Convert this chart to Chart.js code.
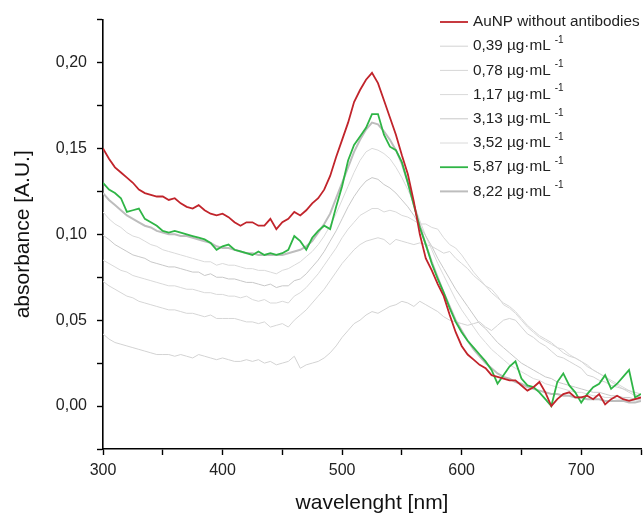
<!DOCTYPE html>
<html>
<head>
<meta charset="utf-8">
<script src="https://cdn.jsdelivr.net/npm/chart.js@4"></script>
<style>
  html, body { margin: 0; padding: 0; background: #fff; }
  #wrap { width: 643px; height: 515px; }
</style>
</head>
<body>
<div id="wrap"><canvas id="spectra" width="643" height="515"></canvas></div>
<script>
// Wavelength grid (nm)
const wavelength = [300,305,310,315,320,325,330,335,340,345,350,355,360,365,370,375,380,385,390,395,
  400,405,410,415,420,425,430,435,440,445,450,455,460,465,470,475,480,485,490,495,
  500,505,510,515,520,525,530,535,540,545,550,555,560,565,570,575,580,585,590,595,
  600,605,610,615,620,625,630,635,640,645,650,655,660,665,670,675,680,685,690,695,
  700,705,710,715,720,725,730,735,740,745,750];

// Absorbance readings
const auNP = [.150,.144,.139,.136,.133,.130,.126,.124,.123,.122,.122,.120,.121,.118,.116,.115,.117,.114,.112,.111,
  .112,.110,.107,.105,.107,.107,.105,.105,.109,.103,.107,.109,.113,.111,.114,.118,.121,.126,.134,.145,
  .155,.165,.177,.184,.190,.194,.188,.178,.168,.158,.146,.135,.119,.100,.086,.079,.071,.064,.053,.043,
  .035,.030,.027,.024,.022,.018,.017,.016,.015,.015,.012,.009,.011,.014,.008,.000,.004,.007,.008,.005,
  .005,.006,.004,.007,.001,.004,.006,.004,.003,.004,.005];

const c587 = [.130,.126,.124,.121,.113,.114,.115,.109,.107,.105,.102,.101,.102,.101,.100,.099,.098,.097,.095,.091,
  .093,.094,.091,.090,.089,.088,.090,.088,.089,.088,.089,.091,.099,.096,.091,.098,.102,.105,.103,.116,
  .128,.143,.152,.157,.162,.170,.170,.158,.151,.149,.142,.130,.117,.104,.094,.083,.074,.066,.057,.049,
  .043,.038,.034,.030,.026,.021,.013,.018,.023,.026,.016,.012,.011,.008,.004,.000,.014,.019,.012,.008,
  .002,.007,.011,.013,.018,.010,.013,.017,.021,.005,.007];

const c822 = [.124,.120,.117,.114,.111,.109,.107,.105,.104,.102,.101,.100,.100,.099,.099,.098,.097,.096,.095,.093,
  .092,.092,.091,.090,.089,.089,.088,.088,.088,.088,.088,.089,.090,.091,.093,.096,.101,.106,.112,.121,
  .130,.139,.148,.155,.161,.165,.164,.160,.155,.149,.141,.130,.117,.105,.094,.084,.075,.066,.058,.050,
  .044,.038,.033,.029,.025,.022,.019,.017,.016,.014,.013,.011,.010,.009,.008,.007,.007,.006,.006,.005,
  .005,.004,.004,.004,.003,.003,.003,.003,.002,.002,.003];

const c352 = [.113,.109,.106,.104,.101,.099,.098,.096,.094,.093,.091,.090,.089,.088,.087,.086,.085,.084,.084,.082,
  .083,.082,.082,.081,.080,.080,.079,.079,.078,.077,.079,.080,.082,.084,.087,.090,.094,.099,.105,.112,
  .120,.128,.136,.143,.148,.150,.149,.147,.144,.139,.133,.126,.118,.108,.099,.091,.083,.076,.069,.062,
  .056,.051,.046,.041,.037,.033,.030,.027,.024,.022,.020,.018,.016,.015,.013,.012,.011,.010,.009,.008,
  .008,.007,.006,.006,.005,.005,.004,.004,.004,.003,.003];

const c313 = [.0995,.097,.094,.092,.090,.088,.087,.086,.084,.083,.082,.081,.081,.080,.079,.078,.078,.076,.077,.075,
  .075,.074,.074,.073,.072,.072,.071,.070,.071,.069,.070,.070,.073,.074,.077,.081,.085,.090,.096,.102,
  .109,.116,.122,.127,.131,.133,.132,.129,.127,.124,.120,.116,.111,.105,.099,.093,.086,.080,.074,.068,
  .063,.058,.053,.048,.045,.041,.037,.034,.031,.028,.025,.023,.021,.019,.017,.016,.014,.013,.012,.011,
  .010,.009,.008,.008,.007,.006,.006,.005,.005,.004,.004];

const c117 = [.085,.083,.081,.079,.078,.076,.075,.074,.073,.072,.071,.070,.070,.069,.068,.068,.067,.066,.066,.065,
  .065,.064,.064,.063,.064,.062,.061,.062,.060,.060,.061,.060,.064,.066,.069,.073,.077,.082,.087,.092,
  .098,.103,.107,.111,.113,.115,.115,.113,.114,.113,.111,.110,.108,.106,.106,.104,.103,.098,.094,.092,
  .088,.083,.078,.074,.070,.068,.064,.059,.057,.054,.050,.046,.043,.040,.038,.036,.034,.033,.030,.028,
  .026,.024,.021,.019,.017,.015,.013,.011,.009,.007,.005];

const c078 = [.0726,.070,.068,.066,.064,.063,.061,.060,.059,.058,.057,.056,.056,.055,.054,.054,.053,.052,.053,.051,
  .051,.051,.051,.050,.049,.049,.048,.049,.046,.047,.048,.046,.050,.053,.056,.060,.064,.068,.073,.078,
  .083,.087,.091,.094,.096,.097,.098,.097,.094,.097,.096,.095,.094,.095,.094,.093,.091,.089,.090,.086,
  .083,.080,.076,.073,.070,.066,.063,.060,.058,.055,.051,.047,.044,.041,.039,.037,.034,.031,.029,.028,
  .026,.023,.021,.019,.017,.014,.012,.010,.008,.006,.005];

const c039 = [.042,.039,.037,.036,.035,.034,.033,.032,.031,.030,.030,.030,.029,.030,.029,.028,.030,.029,.028,.027,
  .028,.027,.026,.026,.027,.026,.027,.025,.026,.024,.025,.026,.029,.022,.024,.025,.026,.028,.031,.035,
  .040,.044,.048,.050,.053,.055,.054,.056,.058,.059,.061,.060,.058,.061,.059,.057,.055,.052,.050,.049,
  .048,.047,.048,.049,.046,.044,.047,.050,.051,.050,.046,.042,.040,.037,.035,.032,.029,.028,.026,.024,
  .022,.018,.017,.015,.014,.012,.011,.010,.009,.008,.007];

// Legend order
const seriesNames = ["AuNP without antibodies", "0,39 µg·mL", "0,78 µg·mL", "1,17 µg·mL",
  "3,13 µg·mL", "3,52 µg·mL", "5,87 µg·mL", "8,22 µg·mL"];
const seriesValues = [auNP, c039, c078, c117, c313, c352, c587, c822];
const seriesColors = ["#c1242b", "#d3d3d3", "#d6d6d6", "#d9d9d9", "#c8c8c8", "#dadada", "#2fb546", "#bdbdbd"];
const seriesWidths = [1.8, 1, 1, 1, 1, 1, 1.8, 2];
const seriesOrder = [0, 3, 3, 3, 3, 3, 1, 2];

const font = '"Liberation Sans", Arial, sans-serif';

// draws the legend in the top right corner, with the -1 exponent
const cornerLegend = {
    id: "cornerLegend",
    afterDraw(chart) {
        const ctx = chart.ctx;
        ctx.save();
        ctx.textBaseline = "middle";
        seriesNames.forEach((name, i) => {
            const y = 22 + i * 24.2;
            ctx.strokeStyle = seriesColors[i];
            ctx.lineWidth = seriesWidths[i];
            ctx.beginPath();
            ctx.moveTo(440, y);
            ctx.lineTo(468, y);
            ctx.stroke();
            ctx.fillStyle = "#222";
            ctx.font = "15.3px " + font;
            ctx.fillText(name, 473, y);
            if (i > 0) {
                const w = ctx.measureText(name).width;
                ctx.font = "10px " + font;
                ctx.fillText("-1", 473 + w + 4, y - 6);
            }
        });
        ctx.restore();
    }
};

const datasets = seriesNames.map((name, i) => ({
    label: name,
    data: wavelength.map((x, k) => ({ x: x, y: seriesValues[i][k] })),
    borderColor: seriesColors[i],
    borderWidth: seriesWidths[i],
    order: seriesOrder[i],
    pointRadius: 0,
    tension: 0,
    fill: false
}));

function isMultiple(v, step) {
    const r = v / step;
    return Math.abs(r - Math.round(r)) < 1e-6;
}

new Chart(document.getElementById("spectra"), {
    type: "line",
    data: { datasets: datasets },
    options: {
        responsive: false,
        animation: false,
        layout: { padding: { top: 15, right: 2, left: 0, bottom: 0 } },
        plugins: {
            legend: { display: false },
            tooltip: { enabled: false }
        },
        scales: {
            x: {
                type: "linear",
                min: 300,
                max: 750,
                afterFit(scale) {
                    scale.height = 66;
                    scale.paddingLeft = 0;
                    scale.paddingRight = 0;
                },
                border: { display: true, color: "#000", width: 1.6 },
                grid: { drawOnChartArea: false, drawTicks: true, tickLength: 6, color: "#000", tickWidth: 1.4 },
                ticks: {
                    stepSize: 50,
                    padding: 6,
                    color: "#222",
                    font: { family: font, size: 16 },
                    maxRotation: 0,
                    autoSkip: false,
                    callback: (v) => isMultiple(v, 100) ? String(v) : ""
                },
                title: {
                    display: true,
                    text: "wavelenght [nm]",
                    color: "#111",
                    font: { family: font, size: 21, lineHeight: 1 },
                    padding: { top: 0, bottom: 1 }
                }
            },
            y: {
                min: -0.025,
                max: 0.225,
                afterFit(scale) { scale.width = 103; },
                border: { display: true, color: "#000", width: 1.6 },
                grid: { drawOnChartArea: false, drawTicks: true, tickLength: 6, color: "#000", tickWidth: 1.4 },
                ticks: {
                    stepSize: 0.025,
                    padding: 10,
                    color: "#222",
                    font: { family: font, size: 16 },
                    autoSkip: false,
                    callback: (v) => isMultiple(v, 0.05) ? v.toFixed(2).replace(".", ",") : ""
                },
                title: {
                    display: true,
                    text: "absorbance [A.U.]",
                    color: "#111",
                    font: { family: font, size: 21, lineHeight: 1.2 },
                    padding: { top: 11, bottom: 0 }
                }
            }
        }
    },
    plugins: [cornerLegend]
});
</script>
</body>
</html>
